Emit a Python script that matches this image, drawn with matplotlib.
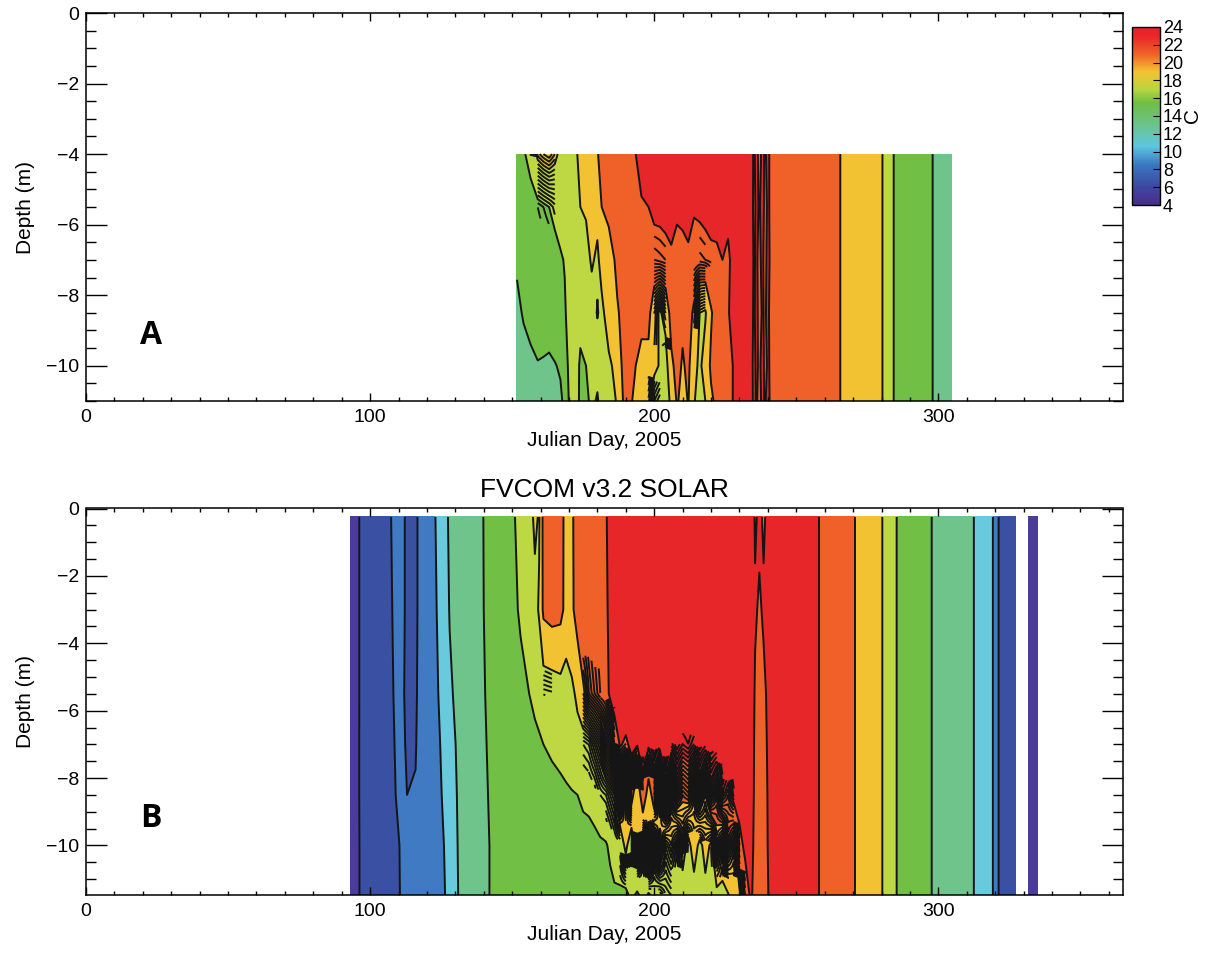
import numpy as np
import matplotlib
matplotlib.use('Agg')
import matplotlib.pyplot as plt
from matplotlib.colors import LinearSegmentedColormap, Normalize
from matplotlib.cm import ScalarMappable
from matplotlib.ticker import MultipleLocator

plt.rcParams['font.family'] = ['Liberation Sans', 'DejaVu Sans']

nan = np.nan

# temperature bands (C) and their colours
levels = [4, 6, 8, 10, 12, 14, 16, 18, 20, 22, 24]
band_colors = ['#4b3c9c', '#3a50a2', '#3f7ac3', '#68cadc', '#6ec48a',
               '#72bf45', '#bdd843', '#f3c232', '#ef6128', '#e7262a']
cbar_ticks = [4, 6, 8, 10, 12, 14, 16, 18, 20, 22, 24]

# ---- panel A: observed, depths -4 .. -11 m ----
depth_a = [-4, -5.5, -7, -8.5, -10, -11]
days_a = [151.7, 154, 156.5, 159, 161, 163, 165, 167, 168.5, 170,
          172.5, 174, 176, 178, 180, 181.5, 184, 187, 189, 191,
          193.5, 195.5, 198, 200, 202, 204, 206, 208, 210, 212,
          214, 216, 218, 220, 222, 224, 226, 228, 230, 232,
          234, 235, 236, 237, 238, 239, 240, 241,
          242.7, 250, 258, 262, 264, 266, 268, 274, 279, 281,
          283, 284.5, 288, 291, 293, 296, 299, 304.5]
a_tail = [21.6, 21.3, 21.0, 20.6, 20.3, 19.9, 19.7, 19.2, 18.4, 17.8,
          16.6, 15.9, 15.4, 15.1, 14.9, 14.4, 13.8, 13.2]
a_m4 = [14.8, 15.8, 16.6, 18.3, 18.6, 18.8, 18.4, 17.6, 16.5, 17.0,
        17.8, 18.5, 19.1, 19.6, 19.9, 20.5, 21.0, 21.2, 21.3, 21.6,
        22.0, 22.4, 22.5, 22.6, 22.8, 22.9, 23.0, 23.1, 23.2, 23.2,
        23.3, 23.3, 23.3, 23.3, 23.3, 23.3, 23.3, 23.3, 23.3, 23.2,
        23.0, 21.8, 22.3, 21.7, 22.2, 21.9, 22.2, 21.8] + a_tail
a_m55 = [14.6, 15.0, 15.3, 15.6, 15.8, 16.0, 16.3, 16.8, 16.4, 17.0,
         17.5, 18.0, 18.4, 19.2, 19.0, 20.0, 20.6, 20.8, 21.0, 21.4,
         21.8, 21.9, 22.0, 22.3, 22.3, 22.4, 22.5, 22.2, 22.4, 22.6,
         22.1, 22.2, 22.3, 22.5, 22.4, 22.8, 22.6, 23.2, 23.2, 23.2,
         23.0, 21.7, 22.2, 21.9, 22.3, 21.8, 22.1, 21.9] + a_tail
a_m7 = [14.3, 14.8, 15.0, 15.2, 15.3, 15.4, 15.6, 15.8, 16.1, 16.8,
        17.2, 17.0, 16.8, 18.4, 17.4, 19.2, 19.0, 20.5, 20.8, 21.2,
        21.4, 21.1, 21.3, 21.4, 21.5, 21.6, 21.8, 21.6, 21.5, 21.7,
        21.6, 21.5, 21.6, 21.7, 21.8, 22.0, 21.6, 22.8, 23.0, 23.1,
        22.9, 21.9, 22.1, 21.8, 22.2, 21.7, 22.3, 21.8] + a_tail
a_m85 = [13.5, 14.2, 14.6, 14.9, 15.0, 14.9, 15.2, 15.4, 15.8, 16.6,
         16.8, 16.4, 17.6, 16.6, 18.2, 17.2, 19.6, 19.8, 20.5, 21.0,
         20.6, 20.4, 20.6, 18.6, 17.8, 18.6, 20.8, 21.2, 20.4, 20.9,
         19.6, 18.0, 17.8, 19.8, 20.9, 21.3, 21.9, 22.5, 22.7, 22.9,
         22.8, 21.8, 22.3, 21.6, 22.1, 21.9, 22.2, 21.7] + a_tail
a_m10 = [12.8, 13.2, 13.6, 13.9, 13.8, 13.7, 13.9, 14.2, 15.2, 16.3,
         16.5, 15.8, 16.0, 17.2, 16.3, 17.8, 17.4, 19.0, 20.3, 20.8,
         20.0, 19.6, 19.4, 18.3, 17.9, 17.2, 19.6, 20.6, 19.8, 20.4,
         18.6, 17.6, 18.9, 20.3, 20.1, 20.9, 20.6, 22.3, 22.5, 22.7,
         22.6, 21.7, 22.2, 21.8, 22.3, 21.8, 22.1, 21.9] + a_tail
a_m11 = [12.4, 12.8, 13.0, 13.3, 13.4, 13.5, 13.6, 13.7, 14.4, 16.1,
         16.2, 15.9, 15.8, 16.2, 15.9, 16.4, 17.0, 18.2, 20.0, 20.6,
         19.4, 19.0, 18.3, 17.2, 16.8, 16.9, 18.5, 20.2, 19.4, 20.1,
         18.2, 16.9, 18.0, 19.7, 20.4, 20.5, 21.1, 22.2, 22.4, 22.5,
         22.5, 21.8, 22.1, 21.7, 22.2, 21.9, 22.3, 21.8] + a_tail

# ---- panel B: FVCOM v3.2 SOLAR, surface to bottom ----
depth_b = [-0.25, -3, -5.5, -7, -8.5, -10, -11.47]
days_b = [93, 95.5, 97, 100, 104, 107, 109, 111, 113, 116,
          118, 122, 124, 126, 128, 131, 135, 139, 142, 146,
          150, 153, 156, 158, 159.5, 161, 164, 167, 169, 171,
          173, 175, 177, 179, 181, 183, 184.5, 186, 188, 190,
          192, 194, 196, 198, 200, 202, 204, 206, 208, 210,
          212, 214, 216, 218, 220, 222, 224, 226, 228, 230,
          232, 234, 235.5, 237, 238.5, 240.5, 246, 252, 256, 257,
          259, 262, 267, 270, 272, 276, 280, 282, 284, 286,
          290, 294, 297, 299, 305, 312, 314, 318, 319.5, 320.5,
          321.5, 324, 327, 329, 331.6, 335]
b_tail = [22.8, 22.9, 22.5, 22.2, 21.8, 21.5, 20.7, 20.1, 19.8, 19.0,
          18.1, 17.4, 16.4, 15.8, 15.3, 14.8, 14.1, 13.8, 13.0, 12.1,
          11.7, 10.4, 9.9, 8.5, 7.8, 7.5, 7.3, nan, 5.3, 5.1]
b_top = [5.0, 5.5, 6.6, 7.0, 7.4, 7.9, 8.4, 8.3, 7.8, 7.7,
         8.6, 9.6, 10.4, 11.3, 12.3, 12.8, 13.2, 13.8, 14.5, 15.1,
         15.8, 16.4, 17.2, 18.4, 17.8, 20.6, 21.2, 20.8, 19.3, 19.6,
         21.2, 21.5, 21.3, 21.7, 21.8, 21.9, 22.4, 23.0, 23.0, 23.1,
         23.2, 23.2, 23.3, 23.3, 23.4, 23.4, 23.5, 23.5, 23.5, 23.5,
         23.5, 23.6, 23.6, 23.6, 23.6, 23.6, 23.6, 23.6, 23.5, 23.5,
         23.4, 23.3, 21.8, 22.3, 21.8, 22.5] + b_tail
b_m3 = [5.0, 5.5, 6.6, 7.0, 7.4, 7.8, 8.3, 8.3, 7.8, 7.7,
        8.6, 9.5, 10.2, 11.0, 12.1, 12.7, 13.2, 13.8, 14.4, 15.0,
        15.6, 16.2, 16.8, 17.4, 18.2, 20.4, 20.8, 20.6, 19.4, 19.6,
        20.9, 21.2, 21.2, 21.5, 21.7, 21.8, 22.3, 22.9, 23.0, 23.1,
        23.2, 23.2, 23.3, 23.3, 23.4, 23.4, 23.5, 23.5, 23.5, 23.5,
        23.5, 23.6, 23.6, 23.6, 23.6, 23.6, 23.6, 23.6, 23.5, 23.5,
        23.4, 23.3, 22.2, 21.8, 22.2, 22.5] + b_tail
b_m55 = [5.0, 5.5, 6.6, 7.0, 7.3, 7.7, 8.2, 8.2, 7.8, 7.8,
         8.6, 9.4, 10.0, 10.7, 11.7, 12.5, 13.1, 13.7, 14.3, 14.8,
         15.2, 15.6, 16.0, 16.3, 16.6, 16.8, 16.9, 17.2, 17.0, 17.6,
         18.4, 19.8, 20.6, 21.0, 21.4, 21.6, 22.2, 22.6, 22.6, 22.9,
         23.0, 23.0, 23.1, 23.2, 23.3, 23.3, 23.4, 23.4, 23.5, 23.5,
         23.5, 23.6, 23.6, 23.6, 23.6, 23.6, 23.6, 23.6, 23.5, 23.5,
         23.4, 23.3, 21.8, 21.6, 21.7, 22.4] + b_tail
b_m7 = [5.0, 5.6, 6.5, 7.0, 7.3, 7.6, 8.1, 8.2, 7.9, 7.9,
        8.7, 9.3, 9.8, 10.4, 11.3, 12.3, 13.0, 13.6, 14.2, 14.7,
        15.0, 15.3, 15.5, 15.7, 15.8, 16.0, 16.2, 16.4, 16.6, 16.9,
        17.3, 17.2, 17.4, 18.0, 18.6, 19.8, 20.3, 21.2, 22.1, 21.8,
        22.3, 22.1, 22.6, 22.2, 22.8, 22.4, 22.9, 22.5, 23.0, 22.6,
        22.8, 22.4, 23.0, 22.7, 23.1, 23.0, 23.2, 23.3, 23.3, 23.4,
        23.4, 23.3, 21.6, 21.5, 21.6, 22.3] + b_tail
b_m85 = [5.0, 5.6, 6.5, 7.0, 7.2, 7.5, 8.0, 8.1, 8.0, 8.1,
         8.7, 9.2, 9.7, 10.2, 10.9, 12.2, 12.9, 13.5, 14.1, 14.6,
         14.9, 15.1, 15.2, 15.3, 15.4, 15.5, 15.6, 15.7, 15.8, 15.9,
         16.0, 16.2, 16.3, 16.5, 17.0, 17.2, 17.6, 18.0, 20.0, 17.5,
         20.8, 18.2, 21.5, 19.0, 21.0, 18.6, 21.6, 19.5, 21.0, 20.2,
         20.5, 19.4, 21.2, 20.0, 21.5, 20.6, 22.2, 21.6, 22.5, 22.8,
         23.2, 23.2, 21.5, 21.4, 21.6, 22.2] + b_tail
b_m10 = [5.0, 5.6, 6.4, 7.0, 7.2, 7.4, 7.8, 8.1, 8.2, 8.4,
         8.8, 9.1, 9.6, 10.0, 10.6, 12.1, 12.8, 13.4, 14.0, 14.5,
         14.8, 15.0, 15.1, 15.2, 15.2, 15.3, 15.3, 15.4, 15.4, 15.5,
         15.5, 15.6, 15.6, 15.7, 15.8, 15.9, 16.2, 16.6, 16.8, 18.5,
         16.5, 19.8, 17.2, 20.5, 17.5, 19.5, 17.8, 18.4, 17.4, 18.8,
         17.5, 18.8, 17.6, 18.5, 17.8, 19.6, 18.5, 20.5, 19.5, 21.4,
         22.4, 22.8, 21.4, 21.4, 21.5, 22.2] + b_tail
b_bot = [5.0, 5.7, 6.3, 7.0, 7.1, 7.4, 7.7, 8.1, 8.3, 8.6,
         8.8, 9.0, 9.5, 9.9, 10.4, 12.0, 12.8, 13.4, 14.0, 14.5,
         14.8, 14.9, 15.0, 15.1, 15.1, 15.2, 15.2, 15.3, 15.3, 15.3,
         15.4, 15.4, 15.5, 15.5, 15.6, 15.7, 15.7, 15.8, 15.8, 15.6,
         16.4, 15.7, 16.6, 15.8, 16.4, 16.0, 16.6, 16.8, 17.0, 17.2,
         17.4, 17.3, 17.5, 17.6, 17.4, 17.7, 17.8, 17.9, 18.6, 19.8,
         21.0, 22.3, 21.4, 21.3, 21.5, 22.1] + b_tail

temp_a = np.array([a_m4, a_m55, a_m7, a_m85, a_m10, a_m11])
temp_b = np.array([b_top, b_m3, b_m55, b_m7, b_m85, b_m10, b_bot])

W, H = 1217, 955
fig = plt.figure(figsize=(W / 100, H / 100), dpi=100)
ax_a = fig.add_axes([86 / W, 1 - 401 / H, (1123 - 86) / W, (401 - 13) / H])
ax_b = fig.add_axes([86 / W, 1 - 895 / H, (1123 - 86) / W, (895 - 508.5) / H])

# intermediate isotherms, only drawn where the water is stratified
fine_levels = [v for v in np.round(np.arange(14.2, 23.61, 0.2), 1) if v % 2 > 0.05]


def to_fine(values, depths, zf):
    # linear resampling in depth, column by column
    return np.array([np.interp(zf, depths[::-1], col[::-1]) for col in values.T]).T


def draw_panel(ax, days, depths, temp, ylim, letter, letter_y):
    depths = np.array(depths, float)
    t = np.ma.masked_invalid(temp)
    ax.contourf(days, depths, t, levels=levels, colors=band_colors)
    zf = np.linspace(depths[-1], depths[0], 160)
    tf = to_fine(temp, depths, zf)
    strat = to_fine(np.abs(np.gradient(temp, depths, axis=0)), depths, zf)
    tf_strat = np.ma.masked_where(~(strat > 0.85), tf)
    ax.contour(days, zf, tf_strat, levels=fine_levels, colors='#151515', linewidths=1.4)
    ax.contour(days, depths, t, levels=levels[1:-1], colors='#151515', linewidths=1.4)
    ax.set_xlim(0, 365)
    ax.set_ylim(ylim, 0)
    ax.set_xticks([0, 100, 200, 300])
    ax.set_yticks([-10, -8, -6, -4, -2, 0])
    ax.xaxis.set_minor_locator(MultipleLocator(10))
    ax.yaxis.set_minor_locator(MultipleLocator(0.5))
    ax.tick_params(axis='x', which='major', direction='in', length=5.5, width=1.0,
                   top=True, labelsize=14, pad=6)
    ax.tick_params(axis='x', which='minor', direction='in', length=2.8, width=1.0, top=True)
    ax.tick_params(axis='y', which='major', direction='in', length=15, width=1.0,
                   right=True, labelsize=14, pad=5)
    ax.tick_params(axis='y', which='minor', direction='in', length=7.5, width=1.0, right=True)
    for s in ax.spines.values():
        s.set_linewidth(1.1)
    ax.set_xlabel('Julian Day, 2005', fontsize=15, labelpad=3)
    ax.set_ylabel('Depth (m)', fontsize=15, labelpad=8)
    ax.text(23, letter_y, letter, fontsize=23, fontweight='bold',
            family=['Open Sans', 'DejaVu Sans'], ha='center', va='center')


draw_panel(ax_a, days_a, depth_a, temp_a, -11, 'A', -9.15)
draw_panel(ax_b, days_b, depth_b, temp_b, -11.47, 'B', -9.2)
ax_b.set_title('FVCOM v3.2 SOLAR', fontsize=19, pad=8)

# colour bar
cmap = LinearSegmentedColormap.from_list('rain', [
    (0.0, '#4a2c8c'), (0.1, '#3d48a0'), (0.225, '#3a78c0'), (0.33, '#5ec6e0'),
    (0.45, '#6cc38c'), (0.575, '#6fbe44'), (0.65, '#b8d640'), (0.75, '#f5c231'),
    (0.85, '#ef6127'), (0.95, '#e8262b'), (1.0, '#e5232a')])
cax = fig.add_axes([1132 / W, 1 - 205 / H, 28 / W, 178 / H])
sm = ScalarMappable(norm=Normalize(4, 24), cmap=cmap)
cb = fig.colorbar(sm, cax=cax, ticks=cbar_ticks)
cb.outline.set_linewidth(1.0)
cax.tick_params(direction='in', length=5, width=0.8, labelsize=13, pad=2)
cb.set_label('C', fontsize=15, labelpad=0)

fig.savefig('out.png', dpi=100)
